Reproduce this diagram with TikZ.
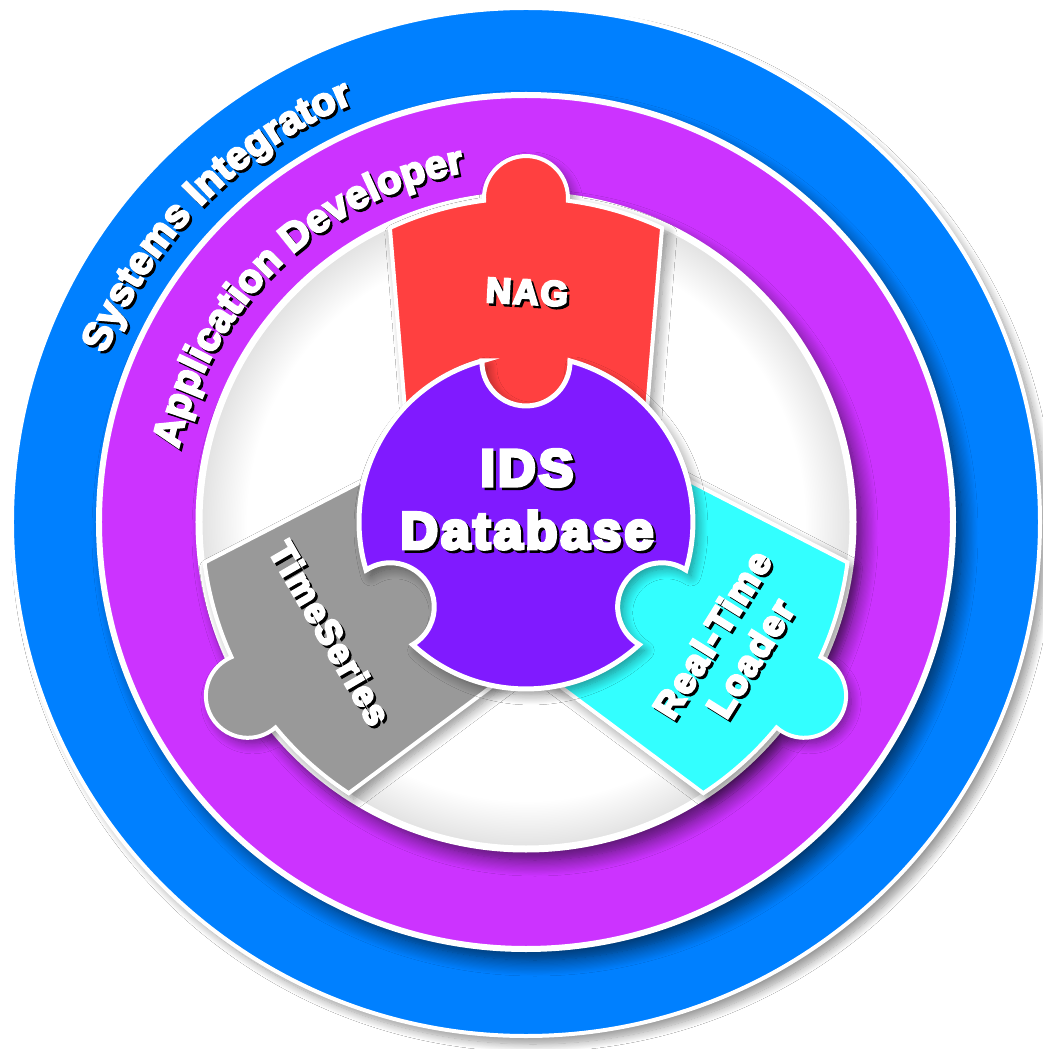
\documentclass[tikz,border=0pt]{standalone}
\usepackage{fontspec}
\newfontfamily\heavy{Liberation Sans Bold}[FakeBold=7,LetterSpace=6]
\newfontfamily\ringheavy{Liberation Sans Bold}[FakeBold=5]
\usetikzlibrary{shadows.blur,decorations.text}
\definecolor{ringblue}{RGB}{0,128,255}
\definecolor{ringpurple}{RGB}{204,51,255}
\definecolor{idspurple}{RGB}{128,26,255}
\definecolor{nagred}{RGB}{255,64,64}
\definecolor{tsgray}{RGB}{153,153,153}
\definecolor{rtcyan}{RGB}{51,255,255}
\pgfdeclareradialshading{insetsh}{\pgfpoint{0bp}{0bp}}{color(0bp)=(white); color(21.5bp)=(white); color(25bp)=(black!11); color(50bp)=(black!11)}
\tikzset{
  lbl/.style={font=\heavy\fontsize{#1pt}{#1pt}\selectfont, inner sep=0pt},
  lblshadow/.style={text=black, xshift=2.5pt, yshift=-2.5pt},
  lblfront/.style={text=white},
  pieceshadow/.style={blur shadow={shadow xshift=5pt, shadow yshift=-6pt, shadow blur radius=10pt, shadow opacity=45, shadow blur steps=12}},
  ringshadow/.style={blur shadow={shadow xshift=9pt, shadow yshift=-11pt, shadow blur radius=16pt, shadow opacity=65, shadow blur steps=14}}
}
\begin{document}
\begin{tikzpicture}
\useasboundingbox (-526pt,-527pt) rectangle (517pt,522pt);
\fill[white] (-526pt,-527pt) rectangle (517pt,522pt);
% outer blue ring
\fill[ringblue, draw=white, line width=4pt,
  blur shadow={shadow xshift=7pt, shadow yshift=-8pt, shadow blur radius=8pt, shadow opacity=40, shadow blur steps=12}]
  (0,0) circle (514pt);
% purple ring
\fill[ringpurple, draw=white, line width=6pt, ringshadow] (0,0) circle (427pt);
% inner disc
\fill[white, ringshadow] (0,0) circle (327pt);
\shade[shading=insetsh] (0,0) circle (324pt);
\draw[white, line width=7pt] (0,0) circle (327pt);
% puzzle pieces: angle / colour / big-circle half angle at knob / knob arc half angle / knob centre
\foreach \t/\c/\b/\k/\kc in {90/nagred/7.43/93.71/324, 212/tsgray/7.35/99.13/328, 328/rtcyan/7.35/99.13/328}{
  \filldraw[fill=\c, draw=white, line width=4pt, pieceshadow]
    ({\t-50.19}:156.2pt) -- ({\t-24.83}:324pt)
    arc[start angle=\t-24.83, end angle=\t-\b, radius=324pt]
    arc[start angle=\t-\k, end angle=\t+\k, radius=42pt]
    arc[start angle=\t+\b, end angle=\t+24.83, radius=324pt]
    -- ({\t+50.19}:156.2pt) -- cycle;
}
% central IDS piece
\filldraw[fill=idspurple, draw=white, line width=5pt, pieceshadow]
  (105.28:167pt) arc[start angle=105.28, end angle=196.72, radius=167pt]
  arc[start angle=123.4, end angle=-59.4, radius=44pt]
  arc[start angle=227.28, end angle=312.72, radius=167pt]
  arc[start angle=239.4, end angle=56.6, radius=44pt]
  arc[start angle=343.28, end angle=434.72, radius=167pt]
  arc[start angle=1.4, end angle=-181.4, radius=44pt] -- cycle;
% curved ring labels (shadow then front)
\begin{scope}[shift={(2.5pt,-2.5pt)}]
\path[decorate, decoration={text along path, text align=center, text color=black,
  text={|\ringheavy\fontsize{40pt}{40pt}\selectfont|Systems Integrator}}]
  (195.3:453pt) arc[start angle=195.3, end angle=75.3, radius=453pt];
\path[decorate, decoration={text along path, text align=center, text color=black,
  text={|\ringheavy\fontsize{40pt}{40pt}\selectfont|Application Developer}}]
  (204:355pt) arc[start angle=204, end angle=64, radius=355pt];
\end{scope}
\path[decorate, decoration={text along path, text align=center, text color=white,
  text={|\ringheavy\fontsize{40pt}{40pt}\selectfont|Systems Integrator}}]
  (195.3:453pt) arc[start angle=195.3, end angle=75.3, radius=453pt];
\path[decorate, decoration={text along path, text align=center, text color=white,
  text={|\ringheavy\fontsize{40pt}{40pt}\selectfont|Application Developer}}]
  (204:355pt) arc[start angle=204, end angle=64, radius=355pt];
% piece labels
\node[lbl=35, lblshadow, rotate=-3] (nagS) at (1pt,230pt) {NAG};
\node[lbl=35, lblfront, rotate=-3] (nag) at (1pt,230pt) {NAG};
\node[lbl=52, lblshadow] (idsS) at (1pt,54pt) {IDS};
\node[lbl=52, lblfront] (ids) at (1pt,54pt) {IDS};
\node[lbl=52, lblshadow] (dbS) at (1pt,-8pt) {Database};
\node[lbl=52, lblfront] (db) at (1pt,-8pt) {Database};
\node[lbl=35, lblshadow, rotate=-60] (tsS) at (-196pt,-111pt) {TimeSeries};
\node[lbl=35, lblfront, rotate=-60] (ts) at (-196pt,-111pt) {TimeSeries};
\node[lbl=36, lblshadow, rotate=58, align=center, font=\heavy\fontsize{36pt}{45pt}\selectfont] (rtS) at (205pt,-124pt) {Real-Time\\Loader};
\node[lbl=36, lblfront, rotate=58, align=center, font=\heavy\fontsize{36pt}{45pt}\selectfont] (rt) at (205pt,-124pt) {Real-Time\\Loader};
\end{tikzpicture}
\end{document}
